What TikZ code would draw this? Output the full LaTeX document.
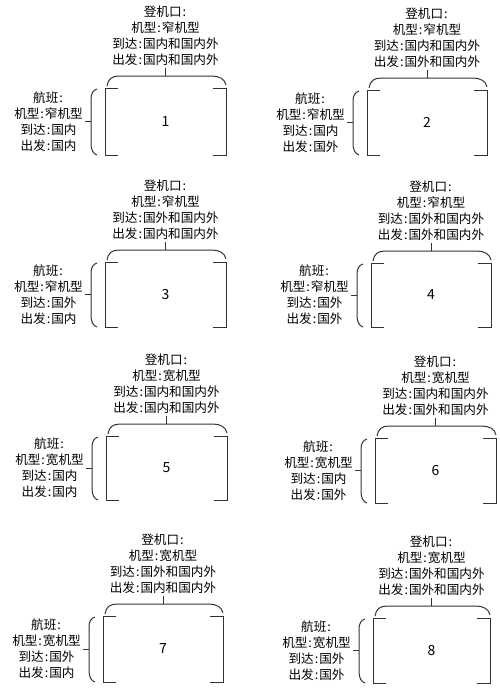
\documentclass[tikz,border=0pt]{standalone}
\usepackage{fontspec}
\setmainfont{Noto Sans CJK SC}
\newcommand\mycln{\makebox[5.5pt]{:}}
\begin{document}
\begin{tikzpicture}[x=1pt,y=-1pt,
  ln/.style={draw=black!80, line width=1pt},
  lbl/.style={inner sep=0pt, align=center, font=\fontsize{12.6}{16}\selectfont},
  num/.style={inner sep=0pt, font=\fontsize{14}{16}\selectfont}]
\useasboundingbox (0,0) rectangle (500,689);
\foreach \n/\xl/\yt/\xr/\yb/\GT/\GA/\GD/\FT/\FA/\FD in {
  1/105/88/226/155/窄机型/国内和国内外/国内和国内外/窄机型/国内/国内,
  2/367/90/487/155/窄机型/国内和国内外/国外和国内外/窄机型/国内/国外,
  3/105/262/226/327/窄机型/国外和国内外/国内和国内外/窄机型/国外/国内,
  4/371/263/491/327/窄机型/国外和国内外/国外和国内外/窄机型/国外/国外,
  5/106/436/227/500/宽机型/国内和国内外/国内和国内外/宽机型/国内/国内,
  6/375/438/496/503/宽机型/国内和国内外/国外和国内外/宽机型/国内/国外,
  7/103/616/223/682/宽机型/国外和国内外/国内和国内外/宽机型/国外/国内,
  8/373/618/490/683/宽机型/国外和国内外/国外和国内外/宽机型/国外/国外}
{
  \pgfmathsetmacro\cx{(\xl+\xr)/2}
  \pgfmathsetmacro\cy{(\yt+\yb)/2}
  % box brackets
  \draw[ln] (\xl+13,\yt) -- (\xl,\yt) -- (\xl,\yb) -- (\xl+13,\yb);
  \draw[ln] (\xr-13,\yt) -- (\xr,\yt) -- (\xr,\yb) -- (\xr-13,\yb);
  \node[num] (n\n) at (\cx,\cy) {\n};
  % gate label and top brace
  \node[lbl, anchor=south] (g\n) at (\cx,\yt-22) {登机口\mycln\\机型\mycln\GT\\到达\mycln\GA\\出发\mycln\GD};
  \coordinate (tb\n) at (\cx,\yt-12);
  \draw[ln] (\xl+2,\yt-2) .. controls (\xl+3,\yt-9) and (\xl+7,\yt-12) .. (\xl+14,\yt-12)
    -- (\xr-14,\yt-12) .. controls (\xr-7,\yt-12) and (\xr-1,\yt-9) .. (\xr,\yt-3);
  \draw[ln] ([yshift=-2pt]g\n.south) -- (tb\n);
  % flight label and left brace
  \node[lbl, anchor=east] (f\n) at (\xl-22,\cy) {航班\mycln\\机型\mycln\FT\\到达\mycln\FA\\出发\mycln\FD};
  \coordinate (lb\n) at (\xl-14,\cy);
  \draw[ln] (\xl-8,\yt+1) .. controls (\xl-12,\yt+2) and (\xl-14,\yt+6) .. (\xl-14,\yt+11)
    -- (\xl-14,\yb-11) .. controls (\xl-14,\yb-6) and (\xl-12,\yb-1) .. (\xl-8,\yb);
  \draw[ln] ([xshift=2pt]f\n.east) -- (lb\n);
}
\end{tikzpicture}
\end{document}
